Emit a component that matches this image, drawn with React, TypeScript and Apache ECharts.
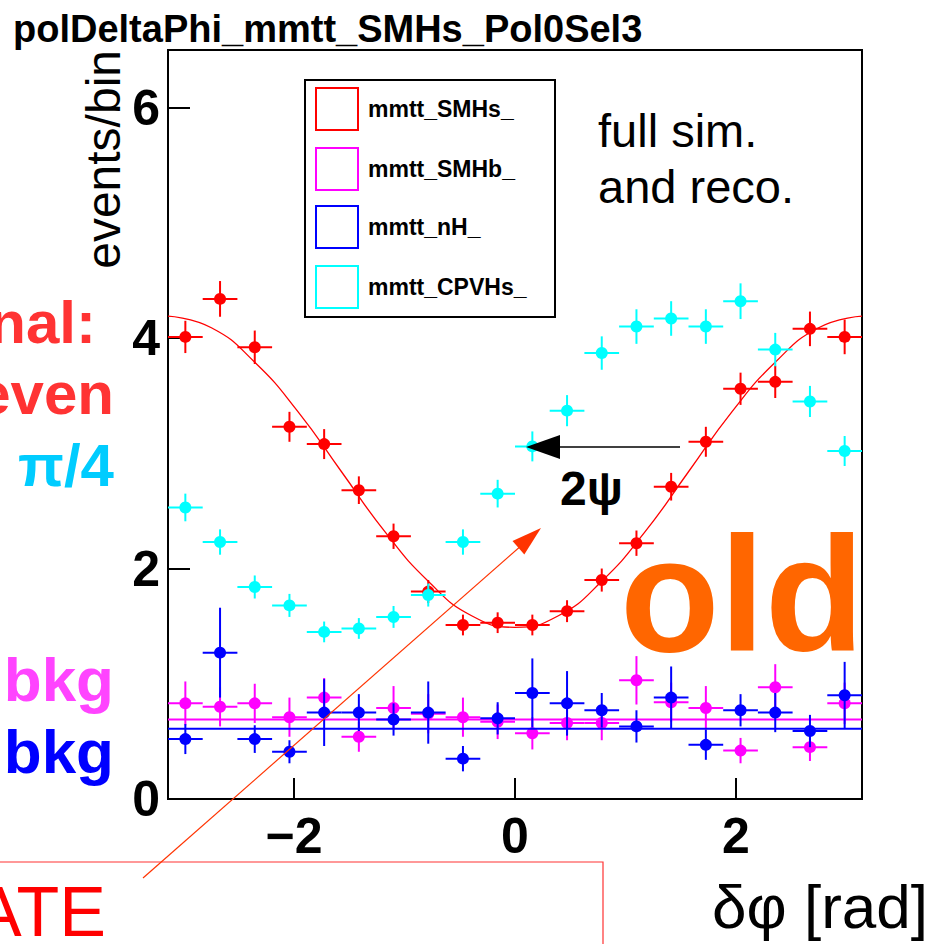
import React, { useEffect, useRef } from "react";
import * as echarts from "echarts";

// ---- data ----
const binCenters = [
  -2.9845, -2.6704, -2.3562, -2.042, -1.7279, -1.4137, -1.0996, -0.7854, -0.4712, -0.1571,
  0.1571, 0.4712, 0.7854, 1.0996, 1.4137, 1.7279, 2.042, 2.3562, 2.6704, 2.9845,
];
const binHalfWidth = 0.1571;

const smhsValues = [4.01, 4.34, 3.92, 3.23, 3.08, 2.68, 2.28, 1.8, 1.51, 1.53, 1.51, 1.63, 1.9, 2.22, 2.71, 3.1, 3.56, 3.62, 4.08, 4.01];
const smhsErrors = [0.14, 0.155, 0.145, 0.13, 0.13, 0.12, 0.11, 0.1, 0.09, 0.09, 0.09, 0.095, 0.1, 0.11, 0.12, 0.13, 0.14, 0.14, 0.15, 0.15];

const cpvhsValues = [2.53, 2.23, 1.84, 1.68, 1.45, 1.48, 1.58, 1.77, 2.23, 2.65, 3.06, 3.37, 3.87, 4.1, 4.17, 4.1, 4.32, 3.9, 3.45, 3.02];
const cpvhsErrors = [0.12, 0.11, 0.1, 0.1, 0.09, 0.09, 0.095, 0.1, 0.11, 0.12, 0.13, 0.135, 0.145, 0.15, 0.15, 0.15, 0.155, 0.145, 0.135, 0.13];

const smhbValues = [0.83, 0.8, 0.83, 0.71, 0.88, 0.54, 0.79, 0.74, 0.71, 0.67, 0.57, 0.66, 0.66, 1.03, 0.84, 0.79, 0.42, 0.97, 0.45, 0.83];
const smhbErrors = [0.19, 0.17, 0.17, 0.17, 0.17, 0.13, 0.19, 0.17, 0.17, 0.15, 0.14, 0.15, 0.15, 0.21, 0.17, 0.19, 0.11, 0.2, 0.12, 0.18];

const nhValues = [0.52, 1.27, 0.52, 0.41, 0.75, 0.75, 0.69, 0.75, 0.35, 0.7, 0.92, 0.83, 0.77, 0.63, 0.88, 0.47, 0.77, 0.75, 0.59, 0.9];
const nhErrors = [0.13, 0.39, 0.12, 0.1, 0.29, 0.16, 0.14, 0.27, 0.11, 0.14, 0.3, 0.28, 0.15, 0.14, 0.27, 0.13, 0.14, 0.17, 0.14, 0.29];

const fitX = [-3.1416, -2.7489, -2.3562, -1.9635, -1.5708, -1.1781, -0.7854, -0.3927, 0, 0.3927, 0.7854, 1.1781, 1.5708, 1.9635, 2.3562, 2.7489, 3.1416];
const fitY = [4.19, 4.09, 3.79, 3.36, 2.84, 2.32, 1.89, 1.59, 1.49, 1.59, 1.89, 2.32, 2.84, 3.36, 3.79, 4.09, 4.19];

const xRange = [-3.1416, 3.1416];
const smhbFlat = 0.69;
const nhFlat = 0.61;

const xTicks = [-2, 0, 2];
const yTicks = [0, 2, 4, 6];

const legendNames = ["mmtt_SMHs_", "mmtt_SMHb_", "mmtt_nH_", "mmtt_CPVHs_"];
const legendColors = ["#ff0000", "#ff00ff", "#0000ff", "#00ffff"];

const FONT = "Liberation Sans, Arial, Helvetica, sans-serif";

function errSeries(name: string, color: string, vals: number[], errs: number[], z: number) {
  return {
    type: "custom",
    name,
    z,
    encode: { x: 0, y: 1 },
    data: binCenters.map((x, i) => [x, vals[i], errs[i]]),
    renderItem: (params: any, api: any) => {
      const x = api.value(0);
      const y = api.value(1);
      const e = api.value(2);
      const c = api.coord([x, y]);
      const l = api.coord([x - binHalfWidth, y]);
      const r = api.coord([x + binHalfWidth, y]);
      const t = api.coord([x, y + e]);
      const b = api.coord([x, y - e]);
      const ls = { stroke: color, lineWidth: 2 };
      return {
        type: "group",
        children: [
          { type: "line", shape: { x1: l[0], y1: l[1], x2: r[0], y2: r[1] }, style: ls },
          { type: "line", shape: { x1: t[0], y1: t[1], x2: b[0], y2: b[1] }, style: ls },
          { type: "circle", shape: { cx: c[0], cy: c[1], r: 6 }, style: { fill: color } },
        ],
      };
    },
  };
}

function flatLine(name: string, color: string, v: number, z: number) {
  return {
    type: "line",
    name,
    z,
    symbol: "none",
    data: xRange.map((x) => [x, v]),
    lineStyle: { color, width: 2 },
  };
}

export default function App() {
  const ref = useRef<HTMLDivElement>(null);
  useEffect(() => {
    document.body.style.margin = "0";
    document.body.style.overflow = "hidden";
    const chart = echarts.init(ref.current!, null, { renderer: "svg" });

    const legendGraphics: any[] = [
      {
        type: "rect",
        z: 100,
        shape: { x: 305, y: 80, width: 250, height: 237 },
        style: { fill: "#fff", stroke: "#000", lineWidth: 2 },
      },
    ];
    const legendYs = [109, 169, 227, 287];
    legendNames.forEach((n, i) => {
      legendGraphics.push({
        type: "rect",
        z: 101,
        shape: { x: 316, y: legendYs[i] - 21, width: 42, height: 42 },
        style: { fill: "none", stroke: legendColors[i], lineWidth: 2 },
      });
      legendGraphics.push({
        type: "text",
        z: 101,
        x: 368,
        y: legendYs[i],
        style: {
          text: n,
          fontSize: 23,
          fontWeight: "bold",
          fontFamily: FONT,
          fill: "#000",
          textAlign: "left",
          textVerticalAlign: "middle",
        },
      });
    });

    const txt = (text: string, x: number, y: number, size: number, color: string, bold: boolean, align = "left") => ({
      type: "text",
      z: 100,
      x,
      y,
      style: {
        text,
        fontSize: size,
        fontWeight: bold ? "bold" : "normal",
        fontFamily: FONT,
        fill: color,
        textAlign: align,
        textVerticalAlign: "middle",
      },
    });

    const option: any = {
      animation: false,
      backgroundColor: "#ffffff",
      title: {
        text: "polDeltaPhi_mmtt_SMHs_Pol0Sel3",
        left: 8,
        top: 5,
        textStyle: { fontSize: 38, fontWeight: "bold", fontFamily: FONT, color: "#000" },
      },
      grid: {
        left: 168,
        right: 72,
        top: 50,
        bottom: 145,
        show: true,
        borderColor: "#000",
        borderWidth: 2,
        backgroundColor: "transparent",
      },
      xAxis: {
        type: "value",
        min: xRange[0],
        max: xRange[1],
        axisLine: { show: true, onZero: false, lineStyle: { color: "#000", width: 2 } },
        axisTick: { show: true, inside: true, length: 21, customValues: xTicks, lineStyle: { color: "#000", width: 2 } },
        minorTick: { show: false },
        splitLine: { show: false },
        axisLabel: {
          customValues: xTicks,
          fontSize: 50,
          fontWeight: "bold",
          fontFamily: FONT,
          color: "#000",
          margin: 12,
          formatter: (v: number) => String(v).replace("-", "\u2212"),
        },
      },
      yAxis: {
        type: "value",
        min: 0,
        max: 6.5,
        axisLine: { show: true, onZero: false, lineStyle: { color: "#000", width: 2 } },
        axisTick: { show: true, inside: true, length: 22, customValues: yTicks, lineStyle: { color: "#000", width: 2 } },
        splitLine: { show: false },
        axisLabel: {
          customValues: yTicks,
          fontSize: 50,
          fontWeight: "bold",
          fontFamily: FONT,
          color: "#000",
          margin: 8,
        },
      },
      series: [
        {
          type: "line",
          name: "mmtt_SMHs_ fit",
          z: 2,
          symbol: "none",
          smooth: true,
          data: fitX.map((x, i) => [x, fitY[i]]),
          lineStyle: { color: "#ff0000", width: 1.3 },
        },
        errSeries("mmtt_SMHs_", "#ff0000", smhsValues, smhsErrors, 3),
        errSeries("mmtt_SMHb_", "#ff00ff", smhbValues, smhbErrors, 4),
        flatLine("mmtt_SMHb_ fit", "#ff00ff", smhbFlat, 5),
        errSeries("mmtt_nH_", "#0000ff", nhValues, nhErrors, 6),
        flatLine("mmtt_nH_ fit", "#0000ff", nhFlat, 7),
        errSeries("mmtt_CPVHs_", "#00ffff", cpvhsValues, cpvhsErrors, 8),
      ],
      graphic: [
        // axis titles
        {
          type: "text",
          z: 100,
          x: 103,
          y: 50,
          rotation: Math.PI / 2,
          style: {
            text: "events/bin",
            fontSize: 48,
            fontFamily: FONT,
            fill: "#000",
            textAlign: "right",
            textVerticalAlign: "middle",
          },
        },
        txt("\u03b4\u03c6 [rad]", 712, 906, 62, "#000", false),
        // annotations
        txt("full sim.", 598, 130, 47, "#000", false),
        txt("and reco.", 598, 186, 47, "#000", false),
        txt("2\u03c8", 560, 488, 48, "#000", true),
        txt("old", 620, 594, 163, "#ff6600", true),
        txt("nal:", 96, 322, 60, "#ff3333", true, "right"),
        txt("even", 114, 393, 60, "#ff3333", true, "right"),
        txt("\u03c0/4", 114, 465, 60, "#00ccff", true, "right"),
        txt("bkg", 114, 679, 62, "#ff44ff", true, "right"),
        txt("bkg", 114, 751, 62, "#0000ff", true, "right"),
        // black arrow
        { type: "line", z: 100, shape: { x1: 680, y1: 447, x2: 555, y2: 447 }, style: { stroke: "#000", lineWidth: 1.5 } },
        { type: "polygon", z: 100, shape: { points: [[526, 447], [560, 435], [560, 459]] }, style: { fill: "#000" } },
        // orange arrow
        { type: "line", z: 100, shape: { x1: 143, y1: 878, x2: 522, y2: 545 }, style: { stroke: "#ff3300", lineWidth: 1.2 } },
        { type: "polygon", z: 100, shape: { points: [[541, 528], [524.3, 554.6], [512.5, 541]] }, style: { fill: "#ff3300" } },
        // red box
        { type: "rect", z: 99, shape: { x: -5, y: 862, width: 608, height: 100 }, style: { fill: "none", stroke: "#ff3333", lineWidth: 1.2 } },
        txt("ATE", 106, 912, 70, "#ff0000", false, "right"),
        ...legendGraphics,
      ],
    };
    chart.setOption(option);
    return () => chart.dispose();
  }, []);
  return <div ref={ref} style={{ position: "absolute", left: 0, top: 0, width: 934, height: 944 }} />;
}
